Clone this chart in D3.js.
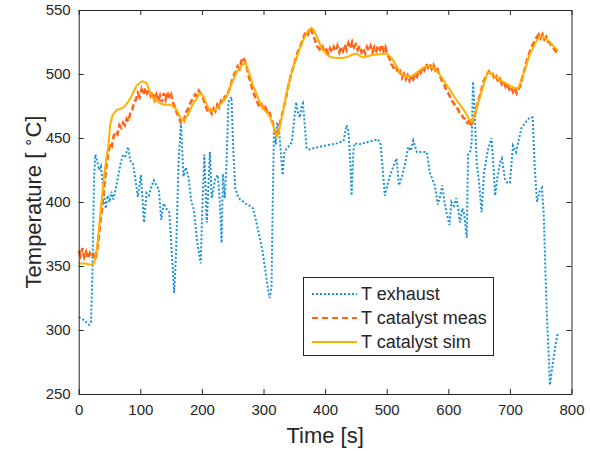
<!DOCTYPE html>
<html><head><meta charset="utf-8">
<script src="https://cdn.jsdelivr.net/npm/d3@7"></script>
<style>body{margin:0;background:#fff}svg{display:block}text{font-family:"Liberation Sans",Arial,Helvetica,sans-serif;fill:#262626}</style>
</head><body><svg id="c" width="590" height="451"></svg>
<script>
const xTicks=[0,100,200,300,400,500,600,700,800];
const yTicks=[250,300,350,400,450,500,550];
const seriesNames=["T exhaust","T catalyst meas","T catalyst sim"];
const exhaustT=[0,5,10,17,20,22,25,27,30,33,36,40,44,47,50,53,56,60,64,68,72,76,80,84,88,92,96,101,106,110,114,118,122,126,130,134,138,142,147,150,155,158,162,166,170,174,178,183,187,192,198,201,204,208,213,216,222,226,229,232,234,237,240,243,248,251,254,258,262,268,273,278,283,288,294,299,304,308,310,313,315,317,320,322,325,328,331,334,338,342,346,350,353,356,359,362,364,367,370,375,381,390,400,410,420,430,435,438,441,443,446,448,455,462,470,478,486,490,494,497,500,505,510,516,520,525,530,535,539,543,549,556,565,570,574,578,583,587,590,594,597,602,605,609,613,616,619,623,626,630,632,636,638,640,643,646,650,654,658,664,670,673,676,680,684,687,692,696,700,705,710,715,719,725,732,737,740,744,748,752,755,758,760,763,765,768,770,774,778];
const exhaustV=[310,309,307,304,306,340,420,437,432,425,428,410,395,405,400,408,402,410,420,430,437,436,443,432,430,418,404,421,384,407,405,412,417,413,410,386,399,395,392,370,329,360,430,462,420,427,420,400,394,370,352,400,437,384,439,403,419,421,400,368,422,403,430,478,482,440,411,405,402,400,398,397,395,385,372,360,343,330,325,333,400,455,445,462,458,440,421,439,442,444,447,465,478,470,466,475,477,460,442,441,442,443,444,445,446,448,460,455,430,405,440,446,445,446,447,448,449,445,423,405,411,420,427,434,413,420,430,443,440,448,439,439,439,423,418,413,398,405,413,400,392,382,400,397,403,395,384,395,390,372,437,440,447,494,470,431,415,392,423,440,450,430,405,420,431,434,418,415,415,444,439,450,458,462,466,466,430,400,408,411,390,340,312,280,257,268,275,288,298];
const measT=[0,3,6,9,12,15,18,21,24,27,30,33,36,39,42,45,48,51,54,57,60,63,66,69,72,75,78,81,84,87,90,93,96,99,102,105,108,111,114,117,120,123,126,129,132,135,138,141,144,147,150,153,156,159,162,165,168,171,174,177,180,183,186,189,192,195,198,201,204,207,210,213,216,219,222,225,228,231,234,237,240,243,246,249,252,255,258,261,264,267,270,273,276,279,282,285,288,291,294,297,300,303,306,309,312,315,318,321,324,327,330,333,336,339,342,345,348,351,354,357,360,363,366,369,372,375,378,381,384,387,390,393,396,399,402,405,408,411,414,417,420,423,426,429,432,435,438,441,444,447,450,453,456,459,462,465,468,471,474,477,480,483,486,489,492,495,498,501,504,507,510,513,516,519,522,525,528,531,534,537,540,543,546,549,552,555,558,561,564,567,570,573,576,579,582,585,588,591,594,597,600,603,606,609,612,615,618,621,624,627,630,633,636,639,642,645,648,651,654,657,660,663,666,669,672,675,678,681,684,687,690,693,696,699,702,705,708,711,714,717,720,723,726,729,732,735,738,741,744,747,750,753,756,759,762,765,768,771,774,777];
const measV=[362,358,364,357,361,356,360,357,359,355,362,375,388,400,415,428,438,446,444,452,455,453,460,458,462,460,465,463,470,472,478,480,485,482,488,484,489,485,487,483,486,480,484,479,483,478,485,480,486,481,484,478,474,470,467,463,466,464,470,472,476,479,481,484,483,487,485,482,478,474,470,472,469,473,471,476,474,479,477,482,484,486,490,495,499,502,506,504,510,513,510,505,498,494,488,484,480,477,474,476,472,474,470,471,466,462,456,452,455,462,468,474,480,488,494,500,505,510,515,519,522,526,530,533,531,536,534,530,526,522,520,518,521,517,519,516,520,517,521,518,522,517,521,518,523,519,524,520,525,521,523,519,522,517,520,516,521,518,522,517,521,518,522,519,523,518,521,515,513,508,506,503,505,500,502,497,500,496,499,495,499,496,500,498,503,501,505,503,508,505,508,504,507,503,505,499,497,493,491,487,485,482,479,477,474,473,470,469,466,465,462,463,459,462,466,472,478,483,488,494,497,500,502,499,500,496,498,494,496,492,494,490,492,488,490,486,489,485,488,491,497,502,508,513,517,521,524,527,529,531,528,531,527,529,525,524,522,520,518,517];
const simT=[0,10,20,25,30,35,40,45,48,51,55,62,70,75,80,86,94,103,110,115,121,132,140,148,155,159,164,168,172,177,186,197,203,208,212,216,221,226,233,240,248,256,263,270,275,278,283,289,294,299,305,310,314,317,320,322,325,330,338,343,348,354,359,365,370,375,378,382,386,391,396,403,410,419,427,435,443,451,457,462,470,478,490,500,505,510,516,521,527,532,538,543,551,559,566,573,578,583,590,595,603,610,619,625,630,635,638,642,646,650,654,659,664,670,676,682,688,696,703,709,713,717,721,726,732,738,744,749,754,760,765,770,776,778];
const simV=[352,352,351,352,365,390,415,435,443,460,468,472,473,475,478,483,491,494.5,493,487,481,477,476,476,474,472,467,464,464,468,477,485,482,476,472,471,472,474,478,482,492,501,506,509,503,499,491,484,478,473,470,467,462,458,453,451,455,467,486,496,505,513,520,527,532,535,536,534,530,524,519,515,513,512.5,512.5,513,515,516,514,513,514,515,515.5,516,514,511,506,501.5,499,498,498,499,502,505,506,505.5,504,501.5,497,493,487.5,482,476,472,468,464,462.5,467,473,480,486,494,501.5,500,498,496,494,492,490,489,488.5,493,499,506,515,521,526.5,528.5,529,527,525,522,519,518];

const svg=d3.select("#c");
const L=78.7,R=571.5,T=10,B=394;
const x=d3.scaleLinear().domain([0,800]).range([L,R]);
const y=d3.scaleLinear().domain([250,550]).range([B,T]);
const axisCol="#262626";
const fmt=d3.format("d");

const line=d3.line().x(d=>x(d[0])).y(d=>y(d[1]));
const zip=(a,b)=>a.map((v,i)=>[v,b[i]]);
const g=svg.append("g");
g.append("path").datum(zip(exhaustT,exhaustV)).attr("d",line).attr("fill","none")
 .attr("stroke","#1a93d8").attr("stroke-width",2).attr("stroke-dasharray","2,2");
g.append("path").datum(zip(measT,measV)).attr("d",line).attr("fill","none")
 .attr("stroke","#ff6417").attr("stroke-width",2.6).attr("stroke-dasharray","6,3");
g.append("path").datum(zip(simT,simV)).attr("d",line).attr("fill","none")
 .attr("stroke","#ffb000").attr("stroke-width",2);

const ax=svg.append("g").attr("transform",`translate(0,${B})`)
 .call(d3.axisBottom(x).tickValues(xTicks).tickFormat(fmt).tickSizeInner(-5).tickSizeOuter(0).tickPadding(10));
const ay=svg.append("g").attr("transform",`translate(${L},0)`)
 .call(d3.axisLeft(y).tickValues(yTicks).tickFormat(fmt).tickSizeInner(-5).tickSizeOuter(0).tickPadding(8));
const axT=svg.append("g").attr("transform",`translate(0,${T})`)
 .call(d3.axisTop(x).tickValues(xTicks).tickFormat("").tickSizeInner(-5).tickSizeOuter(0));
const ayR=svg.append("g").attr("transform",`translate(${R},0)`)
 .call(d3.axisRight(y).tickValues(yTicks).tickFormat("").tickSizeInner(-5).tickSizeOuter(0));
[ax,ay,axT,ayR].forEach(a=>{
  a.selectAll("path").attr("stroke",axisCol).attr("stroke-width",1);
  a.selectAll("line").attr("stroke",axisCol).attr("stroke-width",1);
  a.selectAll("text").attr("fill",axisCol).style("font-size","15px")
   .style("font-family",'"Liberation Sans",Arial,Helvetica,sans-serif');
});

svg.append("text").attr("x",(L+R)/2).attr("y",443).attr("text-anchor","middle")
 .style("font-size","22px").text("Time [s]");
const yl=svg.append("text").attr("transform",`translate(41,${(T+B)/2}) rotate(-90)`)
 .attr("text-anchor","middle").style("font-size","22px");
yl.append("tspan").text("Temperature [ ");
yl.append("tspan").attr("dy","-8").style("font-size","15px").text("\u2218");
yl.append("tspan").attr("dy","8").text("C]");

const lg=svg.append("g");
lg.append("rect").attr("x",303.5).attr("y",277.5).attr("width",190).attr("height",78)
 .attr("fill","#fff").attr("stroke",axisCol).attr("stroke-width",1);
const styles=[{c:"#1a93d8",d:"2,2"},{c:"#ff6417",d:"6,4"},{c:"#ffb000",d:null}];
seriesNames.forEach((n,i)=>{
  const yy=294+i*24;
  const l=lg.append("line").attr("x1",312).attr("x2",357).attr("y1",yy).attr("y2",yy)
    .attr("stroke",styles[i].c).attr("stroke-width",2);
  if(styles[i].d) l.attr("stroke-dasharray",styles[i].d);
  lg.append("text").attr("x",361).attr("y",yy+6).style("font-size","18px").text(n);
});
</script></body></html>
